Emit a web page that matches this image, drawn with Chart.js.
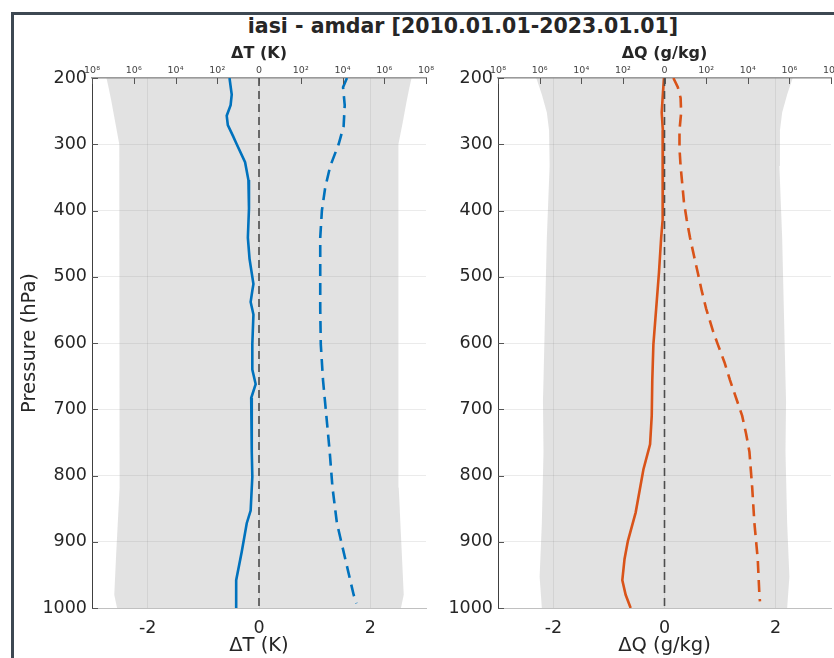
<!DOCTYPE html>
<html>
<head>
<meta charset="utf-8">
<script src="https://cdn.jsdelivr.net/npm/chart.js@4/dist/chart.umd.min.js"></script>
<style>
  body { margin: 0; background: #fff; }
  #fig { position: relative; width: 834px; height: 658px; overflow: hidden; background: #fff; }
  #frame { position: absolute; left: 11px; top: 12px; width: 840px; height: 660px;
           border-left: 3px solid #3d4852; border-top: 3px solid #3d4852; }
  #title { position: absolute; left: 163px; width: 600px; top: 14px; text-align: center;
           font: bold 20.5px 'DejaVu Sans', sans-serif; color: #262626; white-space: nowrap; }
  canvas { position: absolute; top: 36px; }
  #cT { left: 14px; }
  #cQ { left: 434px; }
</style>
</head>
<body>
<div id="fig">
  <div id="frame"></div>
  <div id="title">iasi - amdar [2010.01.01-2023.01.01]</div>
  <canvas id="cT" width="420" height="622"></canvas>
  <canvas id="cQ" width="400" height="622"></canvas>
</div>
<script>
// axes
const pTicks = [200, 300, 400, 500, 600, 700, 800, 900, 1000];
const xTicks = [-2, 0, 2];
const topTicks = [-4, -3, -2, -1, 0, 1, 2, 3, 4];
const topLabels = ['10⁸', '10⁶', '10⁴', '10²', '0', '10²', '10⁴', '10⁶', '10⁸'];

// temperature: mean difference (solid) and std dev (dashed)
const pBiasT = [200, 225, 241, 257, 271, 287, 300, 327, 354, 397, 441, 473, 511, 521, 538, 557, 602, 640, 662, 683, 710, 764, 802, 853, 872, 915, 958, 1000];
const biasT = [-0.53, -0.49, -0.51, -0.58, -0.56, -0.47, -0.40, -0.25, -0.19, -0.18, -0.20, -0.17, -0.10, -0.12, -0.15, -0.10, -0.12, -0.12, -0.06, -0.14, -0.13, -0.13, -0.12, -0.15, -0.22, -0.31, -0.41, -0.41];
const pStdT = [200, 214, 241, 273, 300, 333, 365, 400, 441, 494, 548, 602, 656, 710, 764, 818, 872, 926, 980, 993];
const stdT = [1.58, 1.51, 1.54, 1.52, 1.43, 1.28, 1.19, 1.13, 1.10, 1.10, 1.10, 1.11, 1.15, 1.21, 1.27, 1.32, 1.40, 1.55, 1.70, 1.75];

// humidity
const pBiasQ = [200, 225, 252, 279, 333, 387, 414, 441, 494, 548, 602, 656, 710, 753, 791, 856, 899, 926, 958, 980, 1000];
const biasQ = [-0.01, -0.03, -0.05, -0.03, -0.03, -0.03, -0.04, -0.06, -0.10, -0.15, -0.20, -0.22, -0.23, -0.26, -0.38, -0.52, -0.66, -0.72, -0.76, -0.70, -0.61];
const pStdQ = [200, 214, 230, 252, 279, 306, 333, 360, 387, 414, 441, 468, 494, 521, 548, 581, 602, 629, 656, 683, 710, 737, 764, 818, 872, 926, 980, 990];
const stdQ = [0.16, 0.24, 0.29, 0.30, 0.27, 0.27, 0.29, 0.32, 0.35, 0.40, 0.46, 0.53, 0.60, 0.67, 0.75, 0.87, 0.96, 1.08, 1.18, 1.29, 1.40, 1.47, 1.53, 1.58, 1.62, 1.68, 1.71, 1.72];

// number of obs (grey envelope, half width on the count axis)
const pCntT = [200, 215, 236, 268, 300, 387, 494, 602, 710, 818, 926, 980, 1000];
const cntT = [2.74, 2.70, 2.65, 2.58, 2.51, 2.50, 2.50, 2.51, 2.50, 2.51, 2.57, 2.60, 2.55];
const pCntQ = [200, 225, 252, 279, 333, 441, 548, 656, 687, 764, 872, 953, 1000];
const cntQ = [2.31, 2.21, 2.12, 2.08, 2.07, 2.12, 2.15, 2.18, 2.19, 2.18, 2.21, 2.25, 2.21];

const FONT = "'DejaVu Sans', sans-serif";
const TXT = '#262626';
const gridColor = 'rgba(0,0,0,0.08)';

const toPts = (xs, ps) => xs.map((v, i) => ({ x: v, y: ps[i] }));
const envelope = (w, ps) => ps.map((p, i) => ({ x: -w[i], y: p }))
  .concat(ps.map((p, i) => ({ x: w[i], y: p })).reverse());

// MATLAB style ticks pointing inside
const innerTicks = {
  id: 'innerTicks',
  afterDraw(chart) {
    const { ctx, chartArea: a, scales } = chart;
    ctx.save();
    ctx.strokeStyle = '#555';
    ctx.lineWidth = 1;
    ctx.beginPath();
    scales.y.ticks.forEach(t => {
      const py = Math.round(scales.y.getPixelForValue(t.value)) + 0.5;
      ctx.moveTo(a.left, py); ctx.lineTo(a.left + 6, py);
    });
    scales.x2.ticks.forEach(t => {
      const px = Math.round(scales.x2.getPixelForValue(t.value)) + 0.5;
      ctx.moveTo(px, a.top); ctx.lineTo(px, a.top + 6);
    });
    ctx.stroke();
    ctx.restore();
  }
};

function panel(id, cfg) {
  return new Chart(document.getElementById(id), {
    type: 'scatter',
    data: {
      datasets: [
        { data: toPts([0, 0], [pTicks[0], pTicks[pTicks.length - 1]]), borderColor: '#4d4d4d',
          borderWidth: 1.6, borderDash: [8, 5] },
        { data: toPts(cfg.bias, cfg.pBias), borderColor: cfg.color, borderWidth: 2.6 },
        { data: toPts(cfg.std, cfg.pStd), borderColor: cfg.color, borderWidth: 2.6, borderDash: [12, 7] },
        { data: envelope(cfg.cnt, cfg.pCnt), borderWidth: 0, borderColor: 'rgba(0,0,0,0)',
          backgroundColor: 'rgba(140,140,140,0.25)', fill: 'shape' }
      ]
    },
    options: {
      responsive: false,
      animation: false,
      showLine: true,
      layout: { padding: { left: 0, right: cfg.rightPad, top: 0, bottom: 0 } },
      elements: { point: { radius: 0 }, line: { tension: 0, fill: false } },
      plugins: { legend: { display: false }, tooltip: { enabled: false } },
      scales: {
        x: {
          type: 'linear', position: 'bottom', min: -3, max: 3,
          afterBuildTicks: s => { s.ticks = xTicks.map(v => ({ value: v })); },
          afterFit: s => { s.height = 50; s.paddingLeft = 0; s.paddingRight = 0; },
          grid: { color: gridColor, drawTicks: false },
          border: { color: '#c0c0c0', width: 1 },
          ticks: { padding: 10, color: TXT, font: { family: FONT, size: 17.5 }, callback: v => String(v) },
          title: { display: true, text: cfg.label, color: TXT, font: { family: FONT, size: 19.5 },
                   padding: { top: 0, bottom: 0 } }
        },
        x2: {
          type: 'linear', position: 'top', min: -4, max: 4, display: true,
          afterBuildTicks: s => { s.ticks = topTicks.map(v => ({ value: v })); },
          afterFit: s => { s.height = 42; s.paddingLeft = 0; s.paddingRight = 0; },
          grid: { display: false, drawTicks: false },
          border: { color: '#9a9a9a', width: 1.5 },
          ticks: { padding: 2, color: '#444', font: { family: FONT, size: 9.5 },
                   callback: v => topLabels[topTicks.indexOf(v)] },
          title: { display: true, text: cfg.label, color: TXT,
                   font: { family: FONT, size: 16, weight: 'bold' }, padding: { top: 8, bottom: 0 } }
        },
        y: {
          type: 'linear', position: 'left', min: 200, max: 1000, reverse: true,
          afterBuildTicks: s => { s.ticks = pTicks.map(v => ({ value: v })); },
          afterFit: s => { s.width = cfg.yWidth; s.paddingTop = 0; s.paddingBottom = 0; },
          grid: { color: gridColor, drawTicks: false },
          border: { color: '#404040', width: 1 },
          ticks: { padding: 5, color: TXT, font: { family: FONT, size: 17.5 }, callback: v => String(v) },
          title: { display: cfg.yTitle, text: 'Pressure (hPa)', color: TXT,
                   font: { family: FONT, size: 19.5 }, padding: { top: 4, bottom: 0 } }
        }
      }
    },
    plugins: [innerTicks]
  });
}

panel('cT', { label: 'ΔT (K)', color: '#0072BD', bias: biasT, pBias: pBiasT, std: stdT, pStd: pStdT,
  cnt: cntT, pCnt: pCntT, yWidth: 78, rightPad: 8, yTitle: true });
panel('cQ', { label: 'ΔQ (g/kg)', color: '#D95319', bias: biasQ, pBias: pBiasQ, std: stdQ, pStd: pStdQ,
  cnt: cntQ, pCnt: pCntQ, yWidth: 64, rightPad: 3, yTitle: false });
</script>
</body>
</html>
